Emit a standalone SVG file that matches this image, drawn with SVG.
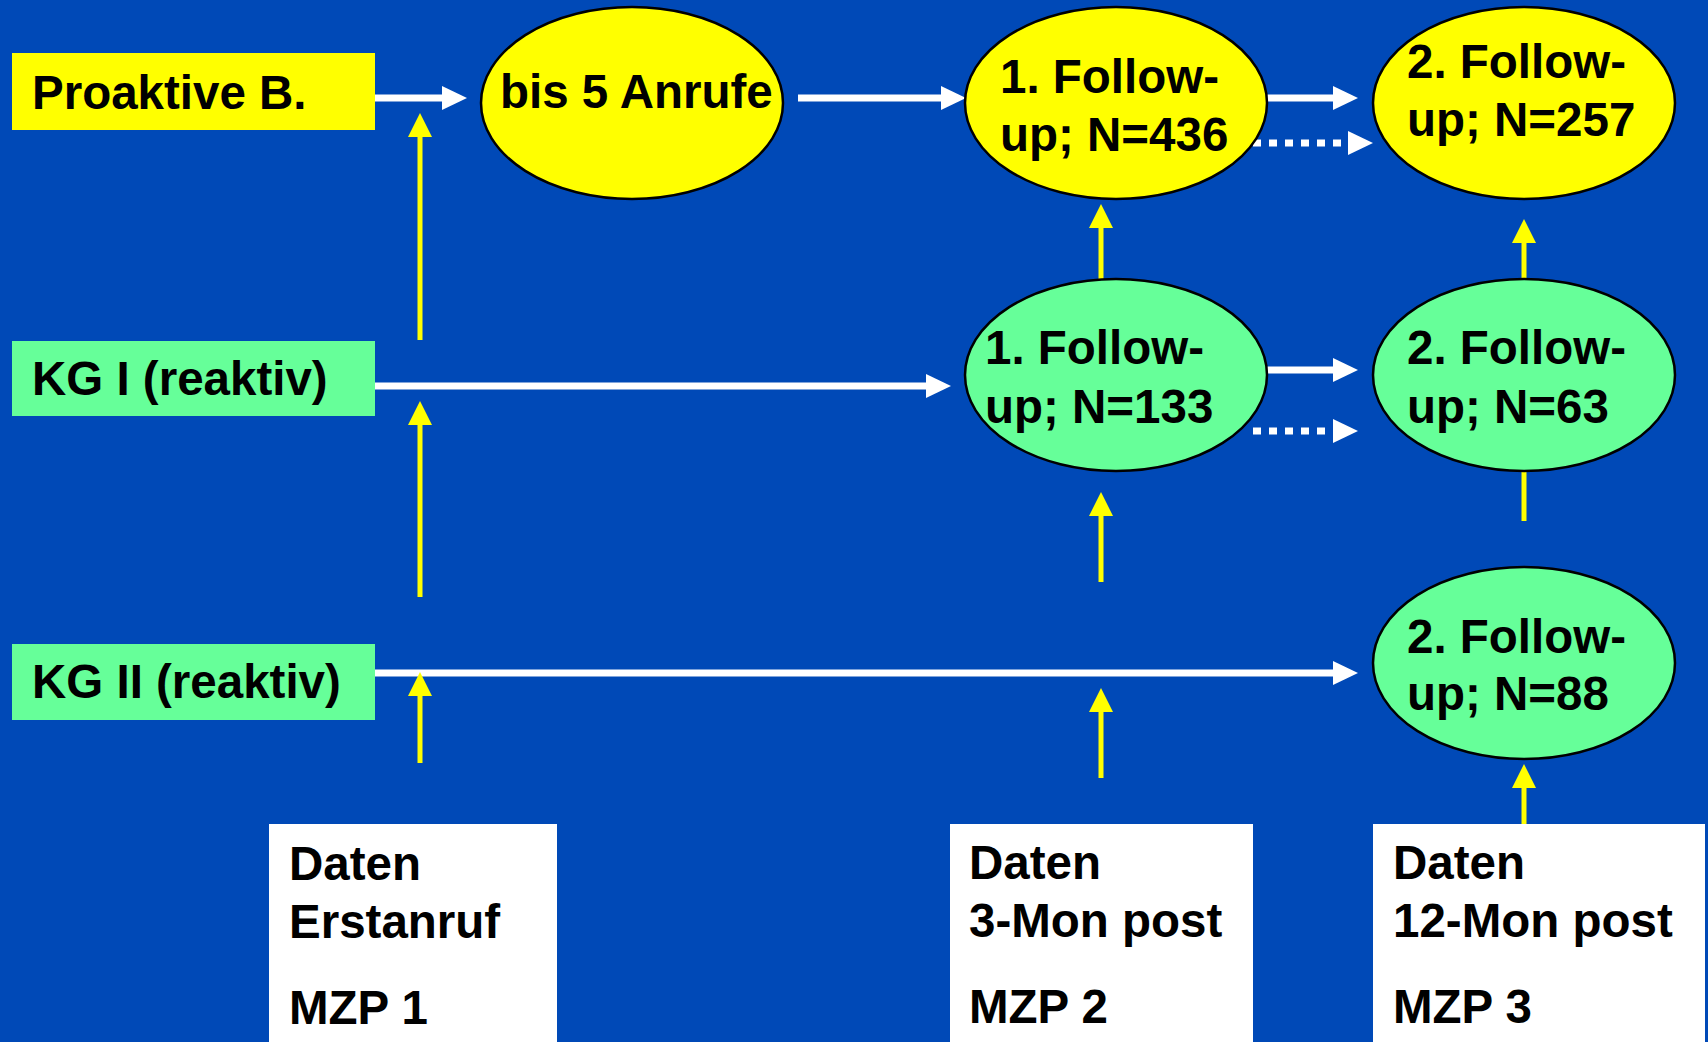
<svg xmlns="http://www.w3.org/2000/svg" width="1708" height="1042" viewBox="0 0 1708 1042">
<style>
text{font-family:"Liberation Sans",Arial,sans-serif;font-weight:bold;font-size:47.5px;fill:#000}
.ell{stroke:#000;stroke-width:2.5}
.y{fill:#FFFF00}
.g{fill:#66FF99}
.w{fill:#FFFFFF}
.wl{stroke:#FFFFFF;stroke-width:7;fill:none}
.wd{stroke:#FFFFFF;stroke-width:7;stroke-dasharray:8 8;fill:none}
.yl{stroke:#FFFF00;stroke-width:5;fill:none}
</style>
<defs>
<marker id="wh" markerUnits="userSpaceOnUse" markerWidth="26" markerHeight="26" refX="0" refY="12" orient="auto" viewBox="0 0 26 26">
<path d="M0,0 L25,12 L0,24 z" fill="#FFFFFF"/>
</marker>
<marker id="yh" markerUnits="userSpaceOnUse" markerWidth="26" markerHeight="26" refX="0" refY="12" orient="auto" viewBox="0 0 26 26">
<path d="M0,0 L24,12 L0,24 z" fill="#FFFF00"/>
</marker>
</defs>
<rect width="1708" height="1042" fill="#0049B7"/>

<g id="connectors">
<line class="wl" x1="375" y1="98" x2="442" y2="98" marker-end="url(#wh)"/>
<line class="wl" x1="798" y1="98" x2="941" y2="98" marker-end="url(#wh)"/>
<line class="wl" x1="1267" y1="98" x2="1333" y2="98" marker-end="url(#wh)"/>
<line class="wd" x1="1253" y1="143" x2="1346" y2="143"/>
<path d="M1348,131 L1373,143 L1348,155 z" fill="#FFFFFF"/>
<line class="wl" x1="375" y1="386" x2="926" y2="386" marker-end="url(#wh)"/>
<line class="wl" x1="1267" y1="370" x2="1333" y2="370" marker-end="url(#wh)"/>
<line class="wd" x1="1253" y1="431" x2="1331" y2="431"/>
<path d="M1333,419 L1358,431 L1333,443 z" fill="#FFFFFF"/>
<line class="wl" x1="375" y1="673" x2="1333" y2="673" marker-end="url(#wh)"/>

<line class="yl" x1="420" y1="340" x2="420" y2="137" marker-end="url(#yh)"/>
<line class="yl" x1="420" y1="597" x2="420" y2="425" marker-end="url(#yh)"/>
<line class="yl" x1="420" y1="763" x2="420" y2="696" marker-end="url(#yh)"/>
<line class="yl" x1="1101" y1="280" x2="1101" y2="228" marker-end="url(#yh)"/>
<line class="yl" x1="1101" y1="582" x2="1101" y2="516" marker-end="url(#yh)"/>
<line class="yl" x1="1101" y1="778" x2="1101" y2="712" marker-end="url(#yh)"/>
<line class="yl" x1="1524" y1="280" x2="1524" y2="243" marker-end="url(#yh)"/>
<line class="yl" x1="1524" y1="470" x2="1524" y2="521"/>
<line class="yl" x1="1524" y1="824" x2="1524" y2="788" marker-end="url(#yh)"/>
</g>

<g id="proaktive">
<rect class="y" x="12" y="53" width="363" height="77"/>
<text x="32" y="109">Proaktive B.</text>
</g>
<g id="kg1">
<rect class="g" x="12" y="341" width="363" height="75"/>
<text x="32" y="395">KG I (reaktiv)</text>
</g>
<g id="kg2">
<rect class="g" x="12" y="644" width="363" height="76"/>
<text x="32" y="698">KG II (reaktiv)</text>
</g>

<g id="anrufe">
<ellipse class="ell y" cx="632" cy="103" rx="151" ry="96"/>
<text x="500" y="108">bis 5 Anrufe</text>
</g>
<g id="fu1-pro">
<ellipse class="ell y" cx="1116" cy="103" rx="151" ry="96"/>
<text x="1000" y="93">1. Follow-</text>
<text x="1000" y="151">up; N=436</text>
</g>
<g id="fu2-pro">
<ellipse class="ell y" cx="1524" cy="103" rx="151" ry="96"/>
<text x="1407" y="78">2. Follow-</text>
<text x="1407" y="136">up; N=257</text>
</g>
<g id="fu1-kg1">
<ellipse class="ell g" cx="1116" cy="375" rx="151" ry="96"/>
<text x="985" y="364">1. Follow-</text>
<text x="985" y="423">up; N=133</text>
</g>
<g id="fu2-kg1">
<ellipse class="ell g" cx="1524" cy="375" rx="151" ry="96"/>
<text x="1407" y="364">2. Follow-</text>
<text x="1407" y="423">up; N=63</text>
</g>
<g id="fu2-kg2">
<ellipse class="ell g" cx="1524" cy="663" rx="151" ry="96"/>
<text x="1407" y="653">2. Follow-</text>
<text x="1407" y="710">up; N=88</text>
</g>

<g id="mzp1">
<rect class="w" x="269" y="824" width="288" height="218"/>
<text x="289" y="880">Daten</text>
<text x="289" y="938">Erstanruf</text>
<text x="289" y="1024">MZP 1</text>
</g>
<g id="mzp2">
<rect class="w" x="950" y="824" width="303" height="218"/>
<text x="969" y="879">Daten</text>
<text x="969" y="937">3-Mon post</text>
<text x="969" y="1023">MZP 2</text>
</g>
<g id="mzp3">
<rect class="w" x="1373" y="824" width="332" height="218"/>
<text x="1393" y="879">Daten</text>
<text x="1393" y="937">12-Mon post</text>
<text x="1393" y="1023">MZP 3</text>
</g>
</svg>
